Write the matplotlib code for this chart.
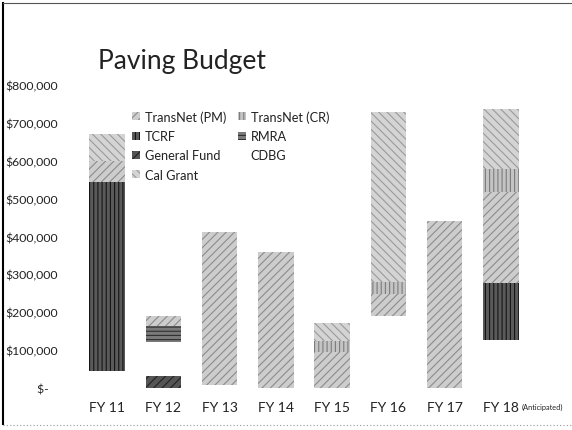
import matplotlib.pyplot as plt
import numpy as np
from matplotlib.lines import Line2D

plt.rcParams['font.family'] = ['Lato', 'DejaVu Sans']
plt.rcParams['hatch.linewidth'] = 0.8

years = ["FY 11", "FY 12", "FY 13", "FY 14", "FY 15", "FY 16", "FY 17", "FY 18"]

# funding by source, stacked bottom to top in this order
general_fund = [0, 33000, 0, 0, 0, 0, 0, 0]
cdbg = [46000, 88000, 8000, 0, 0, 190000, 0, 127000]
tcrf = [497000, 0, 0, 0, 0, 0, 0, 150000]
rmra = [0, 43000, 0, 0, 0, 0, 0, 0]
transnet_pm = [57000, 26000, 404000, 359000, 95000, 58000, 441000, 240000]
transnet_cr = [0, 0, 0, 0, 29000, 32000, 0, 61000]
cal_grant = [70000, 0, 0, 0, 47000, 448000, 0, 158000]

y_ticks = [0, 100000, 200000, 300000, 400000, 500000, 600000, 700000, 800000]
y_labels = ["$-   ", "$100,000", "$200,000", "$300,000", "$400,000",
            "$500,000", "$600,000", "$700,000", "$800,000"]

series = [
    ("General Fund", general_fund, "#555555", "#222222", "////"),
    ("CDBG", cdbg, "white", "white", None),
    ("TCRF", tcrf, "#5a5a5a", "#151515", "||||"),
    ("RMRA", rmra, "#7a7a7a", "#303030", "----"),
    ("TransNet (PM)", transnet_pm, "#cdcdcd", "#8c8c8c", "////"),
    ("TransNet (CR)", transnet_cr, "#c4c4c4", "#7c7c7c", "||||"),
    ("Cal Grant", cal_grant, "#d4d4d4", "#9a9a9a", "\\\\\\\\"),
]

fig = plt.figure(figsize=(5.72, 4.31), dpi=100)
ax = fig.add_axes([0.138, 0.0974, 0.787, 0.7031])

x = np.arange(len(years))
bottom = np.zeros(len(years))
handles = {}
for name, vals, face, edge, hatch in series:
    vals = np.array(vals, dtype=float)
    bars = ax.bar(x, vals, width=0.63, bottom=bottom, color=face,
                  edgecolor=edge, hatch=hatch, linewidth=0, label=name)
    handles[name] = bars
    bottom += vals

ax.set_xlim(-0.5, 7.5)
ax.set_ylim(0, 800000)
ax.set_yticks(y_ticks)
ax.set_yticklabels(y_labels)
ax.set_xticks(x)
ax.set_xticklabels(years)
ax.tick_params(axis='y', length=0, pad=15, labelsize=8.8, labelcolor="#222222")
ax.tick_params(axis='x', length=0, pad=9, labelsize=10, labelcolor="#222222")
for s in ax.spines.values():
    s.set_visible(False)

ax.text(7.37, -0.048, "(Anticipated)", transform=ax.get_xaxis_transform(),
        fontsize=5.3, color="#222222", ha='left', va='top')

order = ["TransNet (PM)", "TCRF", "General Fund", "Cal Grant",
         "TransNet (CR)", "RMRA", "CDBG"]
ax.legend([handles[n] for n in order], order, ncol=2, frameon=False,
          loc='upper left', bbox_to_anchor=(0.093, 0.955), fontsize=9.2,
          handlelength=0.6, handleheight=0.6, handletextpad=0.4,
          columnspacing=0.9, labelspacing=0.58, labelcolor="#222222")

fig.text(0.171, 0.857, "Paving Budget", fontsize=19, color="#222222",
         ha='left', va='center')

# slide frame
fig.add_artist(Line2D([0.006, 0.006], [0.014, 0.99], color="black", lw=1.5))
fig.add_artist(Line2D([0.006, 1.0], [0.99, 0.99], color="#555555", lw=0.8))
fig.add_artist(Line2D([0.006, 1.0], [0.012, 0.012], color="#999999", lw=0.8,
                      linestyle=(0, (1, 2))))

fig.savefig("out.png", dpi=100)
